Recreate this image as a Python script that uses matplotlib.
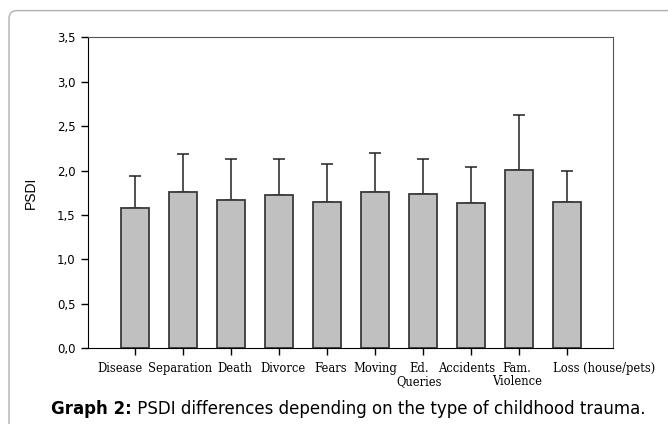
import matplotlib.pyplot as plt
from matplotlib.patches import FancyBboxPatch
from matplotlib.ticker import FuncFormatter
from matplotlib.transforms import ScaledTranslation

# trauma categories and PSDI means / SD
categories = ["Disease", "Separation", "Death", "Divorce", "Fears", "Moving",
              "Ed.\nQueries", "Accidents", "Fam.\nViolence", "Loss (house/pets)"]
means = [1.575, 1.755, 1.665, 1.725, 1.64, 1.755, 1.74, 1.63, 2.01, 1.65]
sds = [0.36, 0.435, 0.46, 0.40, 0.43, 0.445, 0.395, 0.405, 0.61, 0.35]
yticks = [0.0, 0.5, 1.0, 1.5, 2.0, 2.5, 3.0, 3.5]

fig = plt.figure(figsize=(6.68, 4.24), dpi=100)
ax = fig.add_axes([0.1317, 0.179, 0.786, 0.733])

x = range(len(categories))
ax.bar(x, means, width=0.6, color="#c0c0c0", edgecolor="#3a3a3a", linewidth=1.3, zorder=2)
ax.errorbar(x, means, yerr=[[0] * len(sds), sds], fmt="none", ecolor="#222222",
            elinewidth=1.1, capsize=4, capthick=1.1, zorder=1)

ax.set_xlim(-0.98, 9.96)
ax.set_ylim(0, 3.5)
ax.set_yticks(yticks)
ax.yaxis.set_major_formatter(FuncFormatter(lambda v, p: ("%.1f" % v).replace(".", ",")))
ax.set_xticks(list(x))
ax.set_xticklabels(categories, fontfamily="DejaVu Serif", fontsize=8.3, linespacing=1.05)
ax.tick_params(axis="y", labelsize=8.5, direction="out", length=5, width=1, pad=4)
ax.tick_params(axis="x", direction="out", length=5, width=1, pad=5)
ax.set_ylabel("PSDI", fontfamily="Liberation Sans", fontsize=10, labelpad=14)

# the labels in the original are not exactly centred on the ticks (pixels)
label_shift = [-15, -3, 4, 4, 4, 0, -4, -4, -2, 37]
for lab, dx in zip(ax.get_xticklabels(), label_shift):
    lab.set_transform(lab.get_transform() + ScaledTranslation(dx / 100, 0, fig.dpi_scale_trans))

for side in ["left", "bottom"]:
    ax.spines[side].set_color("black")
for side in ["top", "right"]:
    ax.spines[side].set_color("#555555")

# rounded frame around the figure
frame = FancyBboxPatch((0.0135, -0.1), 1.1, 1.075, boxstyle="round,pad=0,rounding_size=0.012",
                       transform=fig.transFigure, fill=False, edgecolor="#b0b0b0",
                       linewidth=1.0, mutation_aspect=668 / 424)
fig.patches.append(frame)

# caption: bold "Graph 2:" followed by normal text, centred as a whole
cap_y = 0.035
bold = fig.text(0, cap_y, "Graph 2:", fontfamily="DejaVu Sans", fontsize=12,
                fontweight="bold", ha="left", va="center")
rest = fig.text(0, cap_y, " PSDI differences depending on the type of childhood trauma.",
                fontfamily="DejaVu Sans", fontsize=12, ha="left", va="center")
r = fig.canvas.get_renderer()
wb = bold.get_window_extent(r).width / fig.bbox.width
wr = rest.get_window_extent(r).width / fig.bbox.width
x0 = 0.521 - (wb + wr) / 2
bold.set_x(x0)
rest.set_x(x0 + wb)

plt.savefig("out.png", dpi=100)
